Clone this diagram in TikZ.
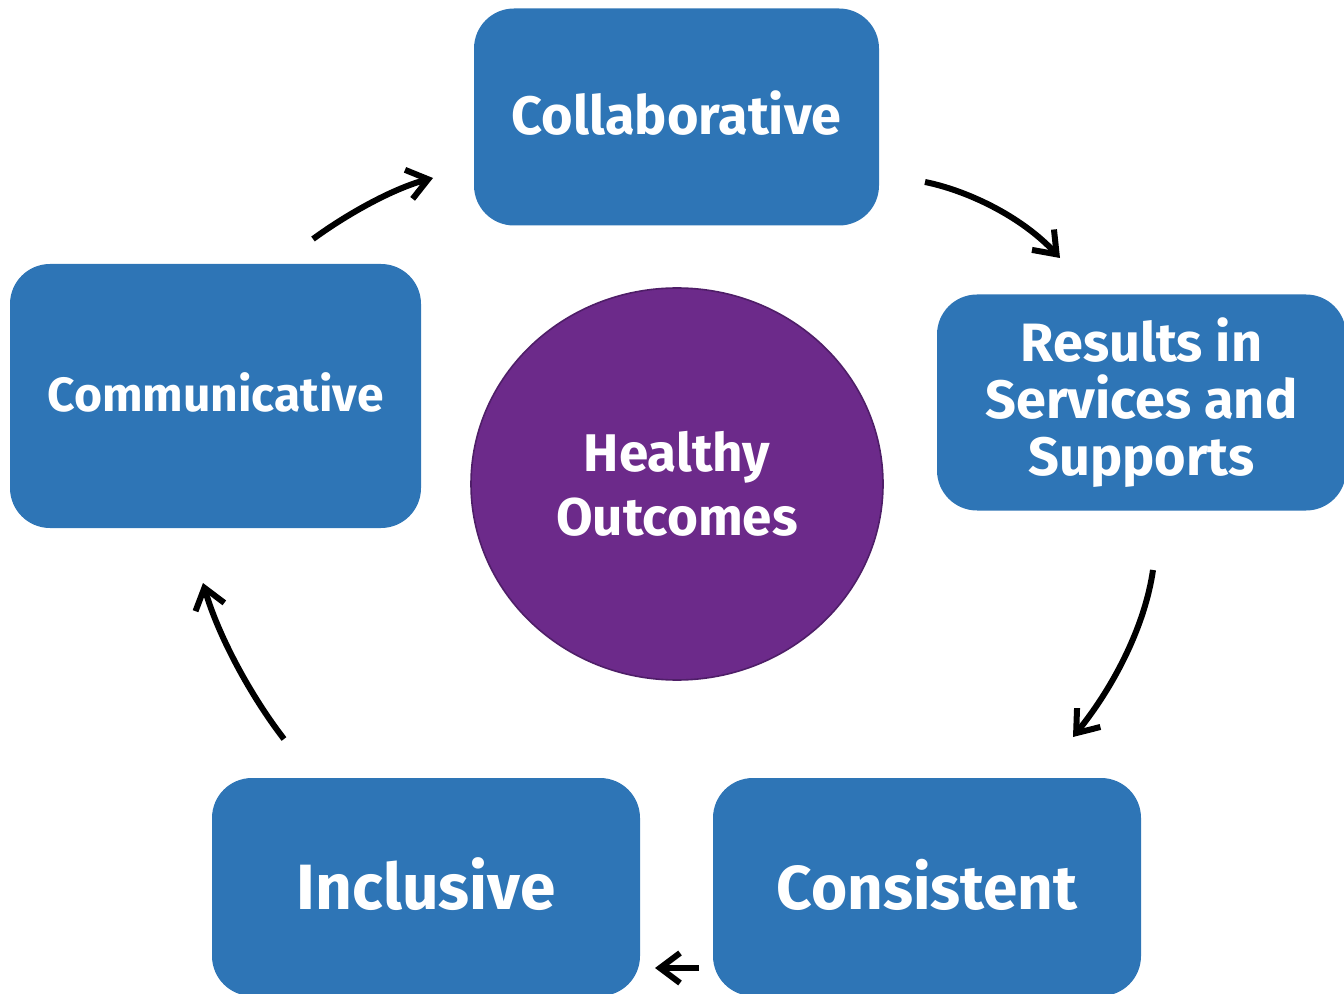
\documentclass[tikz,border=0pt]{standalone}
\usepackage{fontspec}
\setmainfont{Fira Sans}
\usetikzlibrary{arrows.meta,shapes.geometric}
\definecolor{boxblue}{HTML}{2E75B6}
\definecolor{hpurple}{HTML}{6C2A8A}
\definecolor{hpurpleedge}{HTML}{4F1E68}
\begin{document}
\begin{tikzpicture}[x=0.5pt,y=-0.5pt,
  box/.style={fill=boxblue, rounded corners=20pt, text=white, align=center, inner sep=0pt},
  hub/.style={ellipse, fill=hpurple, draw=hpurpleedge, line width=0.8pt, text=white, align=center, inner sep=0pt},
  flow/.style={line width=3pt, -{Straight Barb[length=10pt,width=15pt,line cap=butt]}},
]
\useasboundingbox (0,0) rectangle (1344,994);
\clip (0,0) rectangle (1344,994);

\node[box, minimum width=202.5pt, minimum height=108.5pt, text depth=4pt,
      font=\bfseries\fontsize{27pt}{32pt}\selectfont] (collab) at (676.5,117) {Collaborative};
\node[box, minimum width=204.5pt, minimum height=108pt,
      font=\bfseries\fontsize{27pt}{28.5pt}\selectfont] (results) at (1141.5,402.5) {Results in\\Services and\\Supports};
\node[box, minimum width=205.5pt, minimum height=132pt, text depth=4pt,
      font=\bfseries\fontsize{24pt}{28pt}\selectfont] (commun) at (215.5,396) {Communicative};
\node[box, minimum width=214pt, minimum height=109pt, text depth=3pt,
      font=\bfseries\fontsize{32pt}{36pt}\selectfont] (incl) at (426,887) {Inclusive};
\node[box, minimum width=214pt, minimum height=109pt, text depth=3pt,
      font=\bfseries\fontsize{31pt}{36pt}\selectfont] (consis) at (927,887) {Consistent};
\node[hub, minimum width=206pt, minimum height=196pt,
      font=\bfseries\fontsize{26.5pt}{32pt}\selectfont] (health) at (677,484) {Healthy\\Outcomes};

\coordinate (a1s) at (313,239); \coordinate (a1e) at (433,178);
\coordinate (a2s) at (925,182); \coordinate (a2e) at (1060,258);
\coordinate (a3s) at (1153,570); \coordinate (a3e) at (1073,737);
\coordinate (a4s) at (699,968); \coordinate (a4e) at (655,968);
\coordinate (a5s) at (284,739); \coordinate (a5e) at (203,583);

\draw[flow] (a1s) .. controls (350,212) and (395,188) .. (a1e);
\draw[flow] (a2s) .. controls (965,190) and (1020,215) .. (a2e);
\draw[flow] (a3s) .. controls (1145,625) and (1115,685) .. (a3e);
\draw[flow] (a4s) -- (a4e);
\draw[flow] (a5s) .. controls (250,695) and (218,635) .. (a5e);
\end{tikzpicture}
\end{document}
